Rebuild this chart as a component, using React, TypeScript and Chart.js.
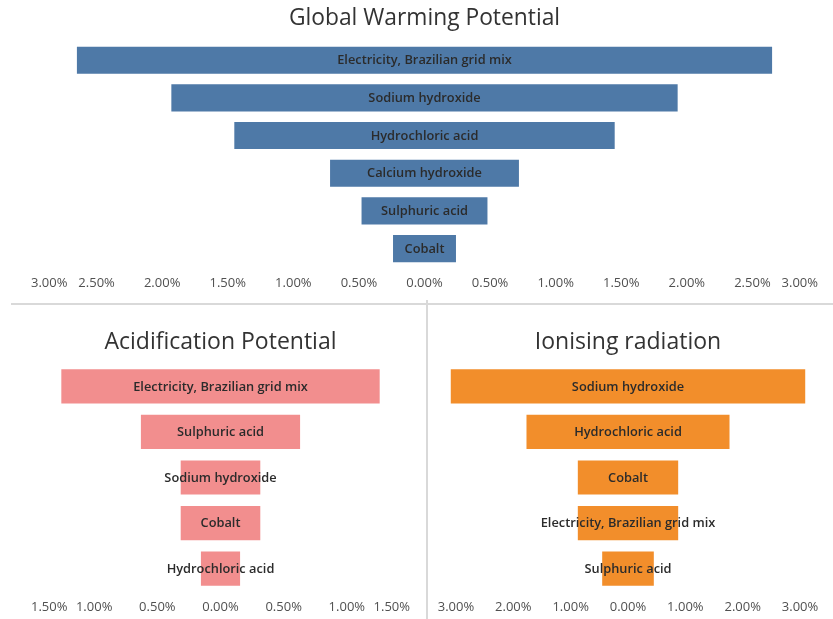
import React, { useEffect, useRef } from "react";
import { Chart, registerables } from "chart.js";

Chart.register(...registerables);

// ---------- data ----------
const gwpCategories = [
  "Electricity, Brazilian grid mix",
  "Sodium hydroxide",
  "Hydrochloric acid",
  "Calcium hydroxide",
  "Sulphuric acid",
  "Cobalt",
];
const gwpValues = [2.65, 1.93, 1.45, 0.72, 0.48, 0.24];

const apCategories = [
  "Electricity, Brazilian grid mix",
  "Sulphuric acid",
  "Sodium hydroxide",
  "Cobalt",
  "Hydrochloric acid",
];
const apValues = [1.26, 0.63, 0.315, 0.315, 0.155];

const irCategories = [
  "Sodium hydroxide",
  "Hydrochloric acid",
  "Cobalt",
  "Electricity, Brazilian grid mix",
  "Sulphuric acid",
];
const irValues = [3.09, 1.77, 0.875, 0.875, 0.45];

const gwpTicks = [-3, -2.5, -2, -1.5, -1, -0.5, 0, 0.5, 1, 1.5, 2, 2.5, 3];
const apTicks = [-1.5, -1, -0.5, 0, 0.5, 1, 1.5];
const irTicks = [-3, -2, -1, 0, 1, 2, 3];

const FONT = "'Open Sans', 'DejaVu Sans', sans-serif";

const barLabelPlugin = {
  id: "barLabels",
  afterDatasetsDraw(chart: any) {
    const ctx = chart.ctx;
    const meta = chart.getDatasetMeta(0);
    const labels = chart.data.labels as string[];
    ctx.save();
    ctx.font = `600 12.8px ${FONT}`;
    ctx.fillStyle = "#2b2b2b";
    ctx.textAlign = "center";
    ctx.textBaseline = "middle";
    meta.data.forEach((el: any, i: number) => {
      const p = el.getProps(["x", "y", "base"], true);
      ctx.fillText(labels[i], (p.x + p.base) / 2, p.y + 0.5);
    });
    ctx.restore();
  },
};

type PanelProps = {
  title: string;
  titleSize: number;
  titleTop: number;
  titleBottom: number;
  categories: string[];
  values: number[];
  ticks: number[];
  min: number;
  max: number;
  color: string;
  barPct: number;
  align: "center" | "inner";
  padding: { left: number; right: number; top: number; bottom: number };
  style: React.CSSProperties;
};

function Panel(props: PanelProps) {
  const ref = useRef<HTMLCanvasElement>(null);
  useEffect(() => {
    if (!ref.current) return;
    const chart = new Chart(ref.current, {
      type: "bar",
      data: {
        labels: props.categories,
        datasets: [
          {
            data: props.values.map((v) => [-v, v]) as any,
            backgroundColor: props.color,
            borderWidth: 0,
            barPercentage: props.barPct,
            categoryPercentage: 1,
          },
        ],
      },
      options: {
        indexAxis: "y",
        animation: false,
        responsive: false,
        maintainAspectRatio: false,
        layout: { padding: props.padding },
        plugins: {
          legend: { display: false },
          tooltip: { enabled: false },
          title: {
            display: true,
            text: props.title,
            color: "#333333",
            font: { family: FONT, size: props.titleSize, weight: "normal" as any },
            padding: { top: props.titleTop, bottom: props.titleBottom },
          },
        },
        scales: {
          y: { display: false },
          x: {
            min: props.min,
            max: props.max,
            grid: { display: false, drawTicks: false },
            border: { display: false },
            afterBuildTicks: (axis: any) => {
              axis.ticks = props.ticks.map((v) => ({ value: v }));
            },
            ticks: {
              padding: 8,
              align: props.align,
              maxRotation: 0,
              autoSkip: false,
              color: "#505050",
              font: { family: FONT, size: 13 },
              callback: (v: any) => Math.abs(Number(v)).toFixed(2) + "%",
            },
          },
        },
      },
      plugins: [barLabelPlugin],
    });
    return () => chart.destroy();
  }, []);
  const w = props.style.width as number;
  const h = props.style.height as number;
  return (
    <canvas
      ref={ref}
      width={w}
      height={h}
      style={{ position: "absolute", ...props.style }}
    />
  );
}

export default function App() {
  useEffect(() => {
    document.body.style.margin = "0";
    document.body.style.background = "#ffffff";
  }, []);
  return (
    <div style={{ position: "relative", width: 833, height: 619, background: "#fff", overflow: "hidden" }}>
      <Panel
        title="Global Warming Potential"
        titleSize={22.8}
        titleTop={5}
        titleBottom={9}
        categories={gwpCategories}
        values={gwpValues}
        ticks={gwpTicks}
        min={-3}
        max={3}
        color="#4e79a7"
        barPct={0.72}
        align="inner"
        padding={{ left: 31, right: 15, top: 0, bottom: 8 }}
        style={{ left: 0, top: 0, width: 833, height: 307 }}
      />
      <div style={{ position: "absolute", left: 11, top: 303, width: 822, height: 2, background: "#d9d9d9" }} />
      <div style={{ position: "absolute", left: 426, top: 300, width: 2, height: 319, background: "#d9d9d9" }} />
      <Panel
        title="Acidification Potential"
        titleSize={23}
        titleTop={24}
        titleBottom={7}
        categories={apCategories}
        values={apValues}
        ticks={apTicks}
        min={-1.5}
        max={1.5}
        color="#f28e8e"
        barPct={0.75}
        align="inner"
        padding={{ left: 31, right: 16, top: 0, bottom: 5 }}
        style={{ left: 0, top: 305, width: 426, height: 323 }}
      />
      <Panel
        title="Ionising radiation"
        titleSize={23}
        titleTop={24}
        titleBottom={7}
        categories={irCategories}
        values={irValues}
        ticks={irTicks}
        min={-3.4}
        max={3.4}
        color="#f28e2b"
        barPct={0.75}
        align="center"
        padding={{ left: 5, right: 10, top: 0, bottom: 5 }}
        style={{ left: 428, top: 305, width: 405, height: 323 }}
      />
    </div>
  );
}
